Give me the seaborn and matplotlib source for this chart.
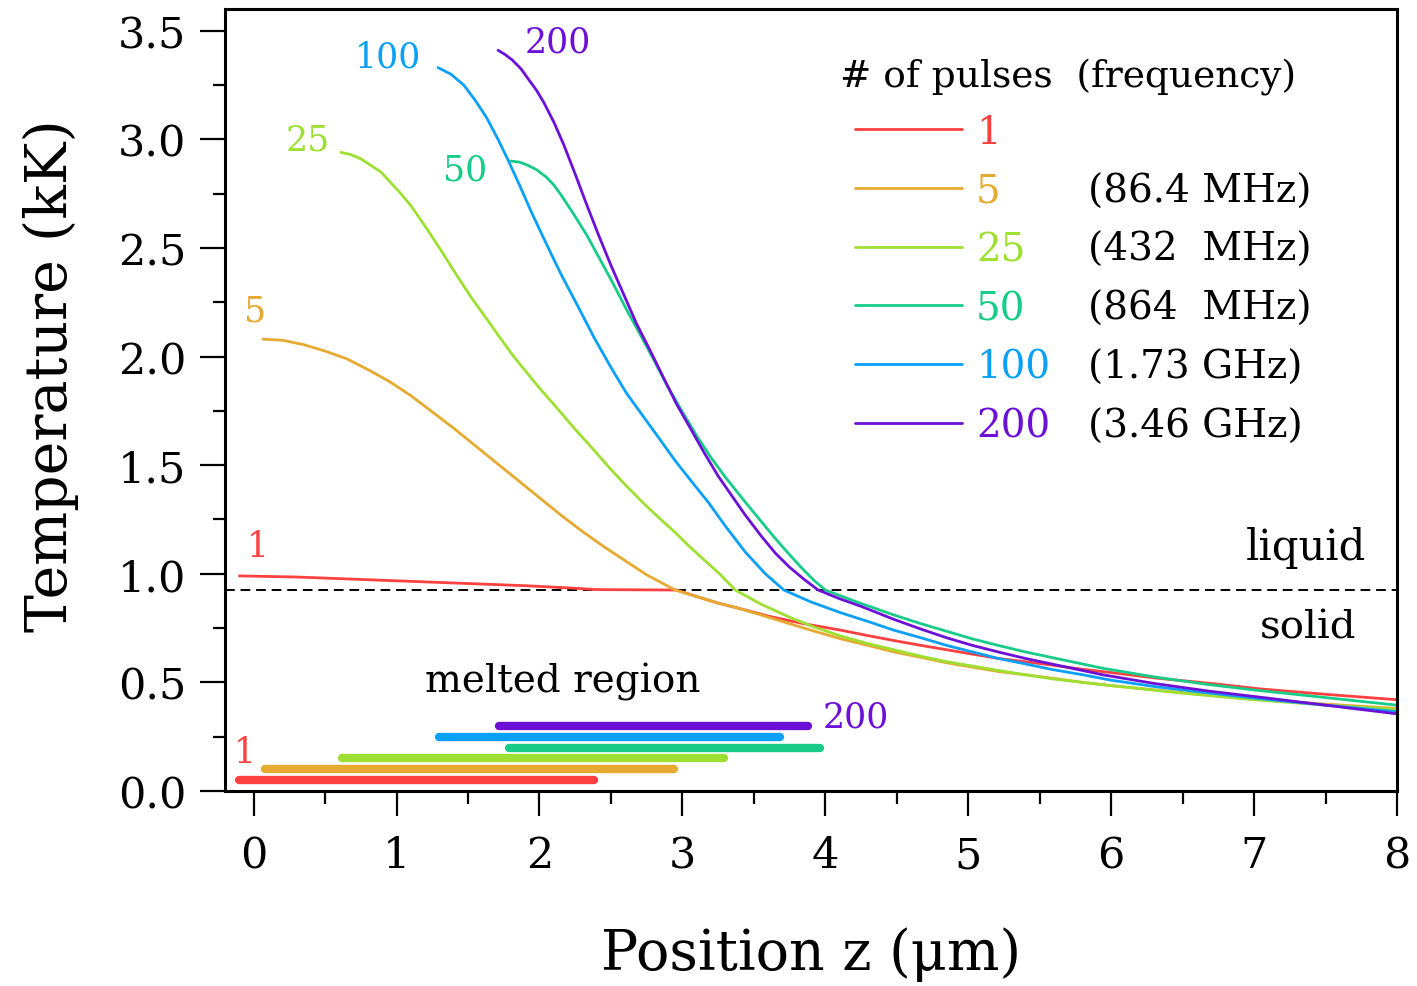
import matplotlib
matplotlib.use("Agg")
import matplotlib.pyplot as plt
from matplotlib.lines import Line2D
from matplotlib.ticker import MultipleLocator, FormatStrFormatter
import seaborn as sns
import pandas as pd

# number of pulses and their colours
pulses = ["1", "5", "25", "50", "100", "200"]
colors = ["#fd4040", "#e6aa30", "#9ee032", "#16cc88", "#0aa0f8", "#6c10d8"]
freq_labels = [" ", "(86.4 MHz)", "(432  MHz)", "(864  MHz)", "(1.73 GHz)", "(3.46 GHz)"]

# temperature profiles (z in um, T in kK)
z_1 = [-0.1, 0.3, 0.7, 1.1, 1.5, 1.9, 2.2, 2.4, 2.96, 3.1, 3.25, 3.4, 3.6, 3.85, 4.11, 4.3, 4.5, 4.67,
       4.85, 5.03, 5.21, 5.4, 5.58, 5.8, 6.0, 6.31, 6.7, 7.04, 7.5, 8.0]
T_1 = [0.99, 0.985, 0.975, 0.965, 0.955, 0.945, 0.935, 0.927, 0.925, 0.895, 0.865, 0.84, 0.805, 0.77, 0.74,
       0.715, 0.69, 0.67, 0.65, 0.63, 0.61, 0.595, 0.58, 0.56, 0.545, 0.52, 0.495, 0.47, 0.445, 0.42]

z_5 = [0.065, 0.2, 0.35, 0.5, 0.65, 0.8, 0.95, 1.1, 1.25, 1.4, 1.55, 1.7, 1.85, 2.0, 2.15, 2.3, 2.45, 2.6,
       2.75, 2.95, 3.1, 3.25, 3.4, 3.55, 3.7, 3.9, 4.11, 4.3, 4.48, 4.67, 4.85, 5.03, 5.21, 5.4, 5.58, 5.8,
       6.0, 6.31, 6.7, 7.04, 7.5, 8.0]
T_5 = [2.08, 2.075, 2.055, 2.025, 1.99, 1.94, 1.885, 1.82, 1.745, 1.67, 1.59, 1.51, 1.43, 1.35, 1.27, 1.195,
       1.125, 1.06, 0.995, 0.925, 0.895, 0.865, 0.84, 0.81, 0.78, 0.74, 0.70, 0.67, 0.64, 0.615, 0.59, 0.57,
       0.55, 0.535, 0.52, 0.50, 0.485, 0.465, 0.44, 0.42, 0.40, 0.38]

z_25 = [0.61, 0.68, 0.75, 0.82, 0.89, 0.96, 1.03, 1.10, 1.20, 1.31, 1.42, 1.53, 1.64, 1.72, 1.82, 1.90, 2.0,
        2.12, 2.25, 2.38, 2.5, 2.6, 2.72, 2.84, 2.95, 3.05, 3.15, 3.26, 3.37, 3.55, 3.75, 3.92, 4.1, 4.29,
        4.48, 4.67, 4.85, 5.03, 5.21, 5.4, 5.6, 5.8, 6.0, 6.5, 7.0, 7.5, 8.0]
T_25 = [2.94, 2.93, 2.91, 2.88, 2.85, 2.80, 2.75, 2.695, 2.60, 2.49, 2.375, 2.265, 2.165, 2.09, 2.00, 1.935,
        1.855, 1.765, 1.665, 1.57, 1.48, 1.41, 1.33, 1.255, 1.19, 1.125, 1.065, 1.0, 0.925, 0.86, 0.80, 0.755,
        0.715, 0.68, 0.65, 0.62, 0.595, 0.575, 0.555, 0.535, 0.515, 0.50, 0.485, 0.45, 0.42, 0.395, 0.375]

z_50 = [1.80, 1.86, 1.92, 1.98, 2.05, 2.10, 2.15, 2.24, 2.33, 2.43, 2.52, 2.61, 2.71, 2.80, 2.89, 3.0, 3.10,
        3.2, 3.3, 3.44, 3.54, 3.64, 3.74, 3.83, 3.92, 4.0, 4.2, 4.48, 4.67, 4.85, 5.03, 5.21, 5.4, 5.58, 5.76,
        5.94, 6.3, 6.68, 7.0, 7.5, 8.0]
T_50 = [2.90, 2.895, 2.88, 2.86, 2.825, 2.79, 2.745, 2.655, 2.56, 2.44, 2.33, 2.215, 2.095, 1.985, 1.87, 1.745,
        1.635, 1.535, 1.445, 1.33, 1.25, 1.17, 1.095, 1.03, 0.97, 0.925, 0.875, 0.81, 0.77, 0.735, 0.70, 0.67,
        0.64, 0.615, 0.59, 0.565, 0.525, 0.49, 0.465, 0.43, 0.395]

z_100 = [1.29, 1.38, 1.47, 1.55, 1.63, 1.71, 1.78, 1.86, 1.94, 2.04, 2.15, 2.27, 2.38, 2.5, 2.61, 2.72, 2.83,
         2.95, 3.07, 3.18, 3.3, 3.44, 3.58, 3.71, 3.9, 4.11, 4.3, 4.48, 4.67, 4.85, 5.03, 5.21, 5.4, 5.58,
         5.8, 6.0, 6.31, 6.7, 7.04, 7.5, 8.0]
T_100 = [3.33, 3.30, 3.25, 3.18, 3.10, 3.00, 2.905, 2.79, 2.67, 2.53, 2.38, 2.23, 2.09, 1.95, 1.83, 1.73, 1.63,
         1.52, 1.42, 1.33, 1.22, 1.10, 1.0, 0.925, 0.87, 0.82, 0.78, 0.74, 0.705, 0.67, 0.64, 0.61, 0.585,
         0.56, 0.535, 0.51, 0.48, 0.45, 0.425, 0.395, 0.365]

z_200 = [1.71, 1.76, 1.81, 1.87, 1.93, 1.98, 2.03, 2.10, 2.17, 2.25, 2.33, 2.41, 2.50, 2.59, 2.68, 2.78, 2.87,
         2.96, 3.06, 3.15, 3.25, 3.35, 3.44, 3.55, 3.65, 3.75, 3.85, 3.95, 4.1, 4.25, 4.48, 4.67, 4.85, 5.03,
         5.21, 5.4, 5.58, 5.76, 5.94, 6.3, 6.68, 7.0, 7.5, 8.0]
T_200 = [3.41, 3.39, 3.365, 3.325, 3.27, 3.225, 3.17, 3.08, 2.975, 2.84, 2.70, 2.565, 2.42, 2.285, 2.15, 2.02,
         1.90, 1.78, 1.665, 1.56, 1.45, 1.355, 1.27, 1.175, 1.095, 1.03, 0.975, 0.925, 0.885, 0.85, 0.79,
         0.745, 0.705, 0.67, 0.64, 0.61, 0.585, 0.56, 0.535, 0.495, 0.46, 0.435, 0.395, 0.355]

profiles_z = [z_1, z_5, z_25, z_50, z_100, z_200]
profiles_T = [T_1, T_5, T_25, T_50, T_100, T_200]

# melted region bars
melt_start = [-0.10, 0.08, 0.62, 1.79, 1.30, 1.72]
melt_end = [2.38, 2.94, 3.29, 3.96, 3.68, 3.88]
melt_level = [0.05, 0.10, 0.15, 0.20, 0.25, 0.30]

T_melt = 0.925

# curve label positions
label_z = [0.03, 0.01, 0.38, 1.48, 0.94, 2.13]
label_T = [1.13, 2.21, 3.00, 2.86, 3.38, 3.45]

sns.set_style("ticks")
plt.rcParams["font.family"] = ["DejaVu Serif"]
plt.rcParams["mathtext.fontset"] = "dejavuserif"
for key in ["text.color", "axes.labelcolor", "xtick.color", "ytick.color", "axes.edgecolor"]:
    plt.rcParams[key] = "black"

fig = plt.figure(figsize=(14.17, 9.87), dpi=100)
ax = fig.add_axes([0.1588, 0.1976, 0.8271, 0.7923])

df = pd.concat([pd.DataFrame({"z": z, "T": T, "pulses": p})
                for z, T, p in zip(profiles_z, profiles_T, pulses)], ignore_index=True)

sns.lineplot(data=df, x="z", y="T", hue="pulses", hue_order=pulses, palette=colors,
             sort=False, estimator=None, linewidth=2.0, legend=False, ax=ax)

# melting temperature
ax.axhline(T_melt, color="black", linewidth=1.4, linestyle=(0, (5, 3)), zorder=1)

# melted region bars
for s, e, lvl, c in zip(melt_start, melt_end, melt_level, colors):
    ax.plot([s, e], [lvl, lvl], color=c, linewidth=6.0, solid_capstyle="round")

# labels next to curves
for p, x, y, c in zip(pulses, label_z, label_T, colors):
    ax.text(x, y, p, color=c, fontsize=25, ha="center", va="center")
ax.text(-0.06, 0.18, "1", color=colors[0], fontsize=25, ha="center", va="center")
ax.text(4.21, 0.345, "200", color=colors[5], fontsize=25, ha="center", va="center")

ax.text(2.16, 0.505, "melted region", fontsize=28, ha="center", va="center")
ax.text(7.36, 1.125, "liquid", fontsize=30, ha="center", va="center")
ax.text(7.38, 0.755, "solid", fontsize=29, ha="center", va="center")

ax.set_xlim(-0.2, 8)
ax.set_ylim(0, 3.6)
ax.xaxis.set_major_locator(MultipleLocator(1))
ax.xaxis.set_minor_locator(MultipleLocator(0.5))
ax.yaxis.set_major_locator(MultipleLocator(0.5))
ax.yaxis.set_minor_locator(MultipleLocator(0.25))
ax.yaxis.set_major_formatter(FormatStrFormatter("%.1f"))

ax.tick_params(which="major", direction="out", length=18, width=1.6, labelsize=31)
ax.tick_params(which="minor", direction="out", length=9, width=1.6)
ax.tick_params(axis="x", which="major", pad=13)
ax.tick_params(axis="y", which="major", pad=10)
for sp in ax.spines.values():
    sp.set_visible(True)
    sp.set_linewidth(2.2)

ax.set_xlabel("Position z (μm)", fontsize=40, labelpad=36)
ax.set_ylabel("Temperature (kK)", fontsize=41)
ax.yaxis.set_label_coords(-0.125, 0.533)

# legend: number of pulses, plus a second column with the frequencies
ax.text(0.5247, 0.914, "# of pulses  (frequency)", transform=ax.transAxes,
        fontsize=27, ha="left", va="center")
handles = [Line2D([], [], color=c, linewidth=2.0) for c in colors]
leg1 = ax.legend(handles, pulses, loc="upper left", bbox_to_anchor=(0.5375, 0.866),
                 frameon=False, fontsize=28, handlelength=2.75, handletextpad=0.36,
                 labelspacing=0.56, borderpad=0, borderaxespad=0, labelcolor=colors)
ax.add_artist(leg1)
blank = [Line2D([], [], color="none") for _ in colors]
ax.legend(blank, freq_labels, loc="upper left", bbox_to_anchor=(0.7363, 0.866),
          frameon=False, fontsize=28, handlelength=0, handletextpad=0,
          labelspacing=0.56, borderpad=0, borderaxespad=0)

fig.savefig("out.png", dpi=100)
